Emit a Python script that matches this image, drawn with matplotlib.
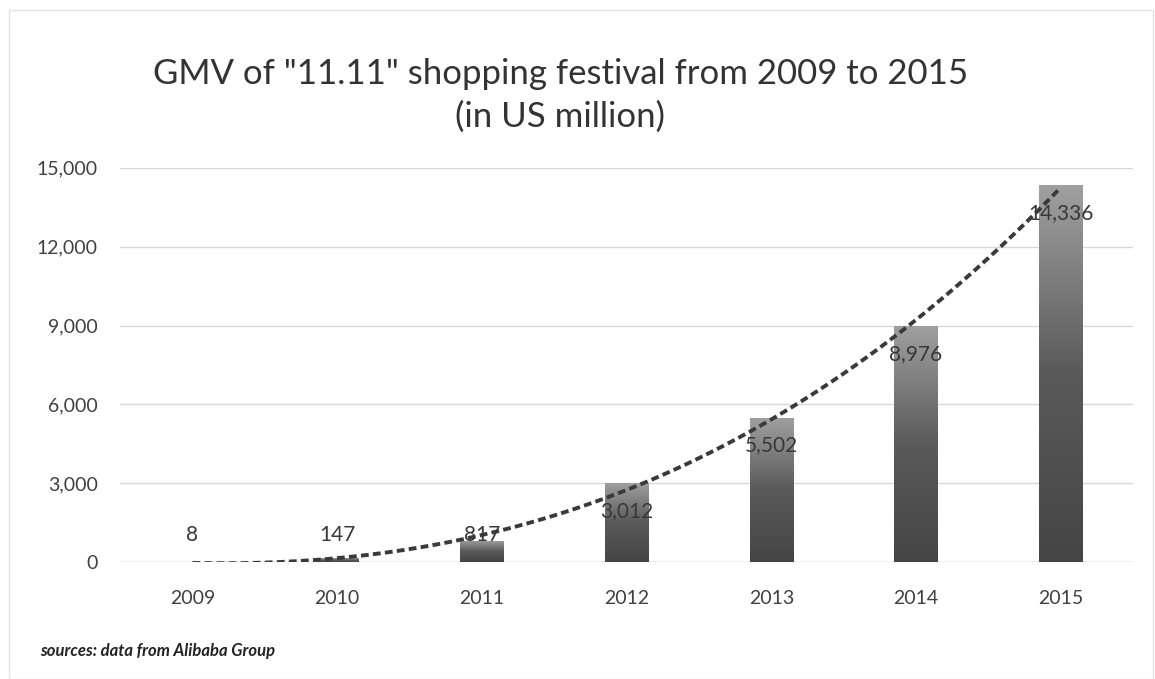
import numpy as np
import matplotlib
matplotlib.use("Agg")
import matplotlib.pyplot as plt
from matplotlib.patches import Rectangle
from matplotlib.colors import LinearSegmentedColormap

years = ["2009", "2010", "2011", "2012", "2013", "2014", "2015"]
gmv = [8, 147, 817, 3012, 5502, 8976, 14336]
yticks = [0, 3000, 6000, 9000, 12000, 15000]
title = 'GMV of "11.11" shopping festival from 2009 to 2015\n(in US million)'
source = "sources: data from Alibaba Group"

plt.rcParams["font.family"] = ["Lato", "DejaVu Sans"]
fig = plt.figure(figsize=(11.55, 6.79), dpi=100)
fig.patch.set_facecolor("white")
ax = fig.add_axes([0.104, 0.172, 0.877, 0.581])

x = np.arange(len(years))
bars = ax.bar(x, gmv, width=0.30, color="none", edgecolor="none", zorder=2)

grad = np.linspace(0, 1, 256).reshape(-1, 1)
cmap = LinearSegmentedColormap.from_list("g", ["#454545", "#5a5a5a", "#a0a0a0"])
for b in bars:
    x0, y0 = b.get_x(), b.get_y()
    w, h = b.get_width(), b.get_height()
    im = ax.imshow(grad, cmap=cmap, aspect="auto", origin="lower",
                   extent=[x0, x0 + w, y0, y0 + h], zorder=2)
    im.set_clip_path(b)

# polynomial trendline (Excel-style) fitted to the data
coef = np.polyfit(x, gmv, 3)
xs = np.linspace(0, 6, 200)
ax.plot(xs, np.polyval(coef, xs), linestyle=(0, (2.0, 1.1)), color="#3a3a3a",
        linewidth=2.8, zorder=3)

for i, v in enumerate(gmv):
    ly = max(v - 1060, 1025)
    ax.text(i, ly, f"{v:,}", ha="center", va="center", fontsize=15,
            color="#383838", zorder=4)

ax.set_xlim(-0.5, 6.5)
ax.set_ylim(0, 15000)
ax.set_yticks(yticks)
ax.set_yticklabels([f"{t:,}" for t in yticks])
ax.set_xticks(x)
ax.set_xticklabels(years)
ax.tick_params(axis="both", length=0, labelsize=14, labelcolor="#404040")
ax.tick_params(axis="y", pad=16)
ax.tick_params(axis="x", pad=20)
ax.grid(axis="y", color="#d8d8d8", linewidth=1, zorder=0)
ax.set_axisbelow(True)
for s in ax.spines.values():
    s.set_visible(False)
ax.axhline(0, color="#c8c8c8", linewidth=1, zorder=1)

fig.text(0.485, 0.86, title, ha="center", va="center", fontsize=25,
         color="#333333", linespacing=1.4)
fig.text(0.035, 0.041, source, ha="left", va="center", fontsize=12,
         fontweight="bold", fontstyle="italic", color="#222222")

fig.add_artist(Rectangle((0.008, 0.0), 0.99, 0.985, transform=fig.transFigure,
                         fill=False, edgecolor="#e4e4e4", linewidth=1))

fig.savefig("out.png", dpi=100)
